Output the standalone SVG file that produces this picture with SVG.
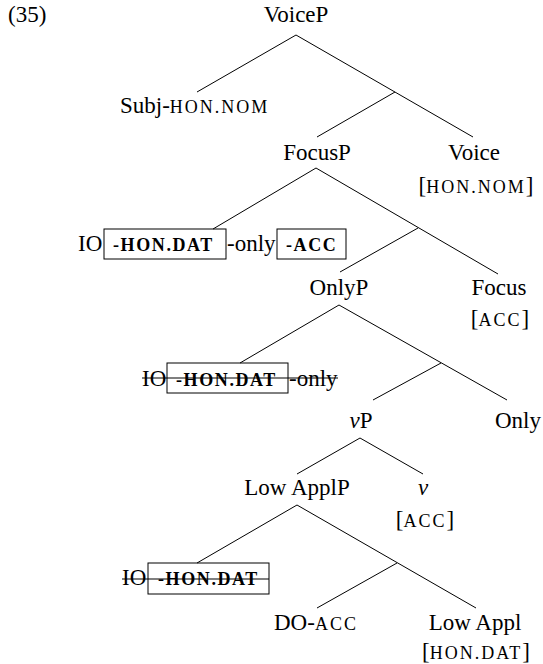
<svg xmlns="http://www.w3.org/2000/svg" width="543" height="664" viewBox="0 0 543 664" font-family="Liberation Serif, Times New Roman, serif">
<style>
text{font-size:23px;fill:#000}
.m{text-anchor:middle}
.sc{font-size:18px;letter-spacing:2px}
.b{font-size:18px;font-weight:bold;letter-spacing:1.6px}
.box{fill:none;stroke:#000;stroke-width:1}
.edge{stroke:#000;stroke-width:1;fill:none}
.strike{stroke:#000;stroke-width:1.2}
</style>
<rect width="543" height="664" fill="#fff"/>
<g id="connectors">
<path class="edge" d="M296 35L197 92M296 35L473 137M395 92L317 137"/>
<path class="edge" d="M316 168L213 229M316 168L498 274M418 228L340 272"/>
<path class="edge" d="M339 305L240 363M339 305L507 400M441 363L373 400"/>
<path class="edge" d="M360 438L297 474M360 438L423 474"/>
<path class="edge" d="M297 505L197 563M297 505L476 608M397 563L317 608"/>
</g>
<g id="n-ex"><text x="8" y="22">(35)</text></g>
<g id="n-voicep"><text class="m" x="296" y="22">VoiceP</text></g>
<g id="n-subj"><text x="120" y="113">Subj-<tspan class="sc">HON.NOM</tspan></text></g>
<g id="n-focusp"><text class="m" x="317" y="160">FocusP</text></g>
<g id="n-voice"><text class="m" x="474" y="160">Voice</text><text class="m" x="476" y="193">[<tspan class="sc">HON.NOM</tspan>]</text></g>
<g id="n-io1">
<text x="78" y="251">IO</text>
<rect class="box" x="104" y="229" width="122" height="30"/>
<text x="113" y="251" class="b">-HON.DAT</text>
<text x="227" y="251">-only</text>
<rect class="box" x="277" y="229" width="69" height="30"/>
<text x="286" y="251" class="b">-ACC</text>
</g>
<g id="n-onlyp"><text class="m" x="339" y="295">OnlyP</text></g>
<g id="n-focus"><text class="m" x="499" y="295">Focus</text><text class="m" x="500" y="326">[<tspan class="sc">ACC</tspan>]</text></g>
<g id="n-io2">
<text x="142" y="386">IO</text>
<rect class="box" x="167" y="363" width="121" height="30"/>
<text x="176" y="386" class="b">-HON.DAT</text>
<text x="289" y="386">-only</text>
<line class="strike" x1="142" y1="378" x2="338" y2="378"/>
</g>
<g id="n-vp"><text class="m" x="361" y="428"><tspan font-style="italic">v</tspan>P</text></g>
<g id="n-only"><text class="m" x="518" y="428">Only</text></g>
<g id="n-lowapplp"><text class="m" x="297" y="495">Low ApplP</text></g>
<g id="n-v"><text class="m" x="423" y="495" font-style="italic">v</text><text class="m" x="425" y="527">[<tspan class="sc">ACC</tspan>]</text></g>
<g id="n-io3">
<text x="122" y="585">IO</text>
<rect class="box" x="148" y="563" width="121" height="31"/>
<text x="158" y="585" class="b">-HON.DAT</text>
<line class="strike" x1="122" y1="579" x2="269" y2="579"/>
</g>
<g id="n-do"><text x="274" y="630">DO-<tspan class="sc">ACC</tspan></text></g>
<g id="n-lowappl"><text class="m" x="475" y="630">Low Appl</text><text class="m" x="476" y="659">[<tspan class="sc">HON.DAT</tspan>]</text></g>
</svg>
